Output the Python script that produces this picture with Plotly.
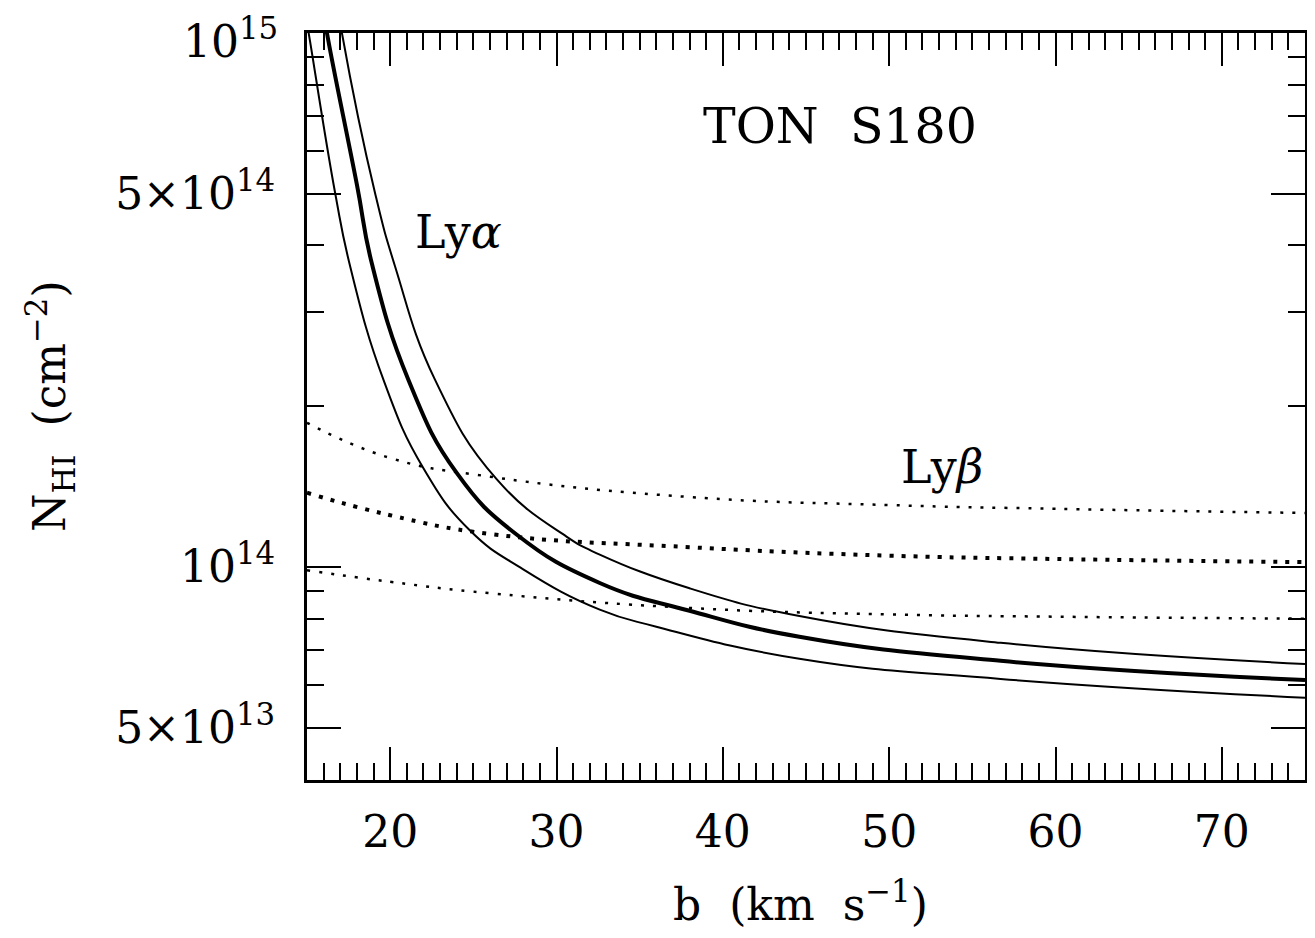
import plotly.graph_objects as go

# Ly-alpha curves (b in km/s, N_HI in cm^-2)
lya_mid_b = [16.0, 16.2, 18.0, 18.9, 21.1, 24.0, 27.6, 32.6, 38.0, 44.6, 56.7, 75.0]
lya_mid_n = [1.10e15, 1.0e15, 5.2e14, 3.70e14, 2.24e14, 1.50e14, 1.15e14, 9.33e13, 8.28e13, 7.40e13, 6.67e13, 6.14e13]

lya_hi_b = [16.9, 17.1, 19.1, 20.3, 22.7, 26.4, 30.6, 32.6, 38.0, 44.6, 56.7, 75.0]
lya_hi_n = [1.10e15, 1.0e15, 5.0e14, 3.65e14, 2.24e14, 1.46e14, 1.14e14, 1.055e14, 9.12e13, 8.09e13, 7.21e13, 6.58e13]

lya_lo_b = [15.0, 15.1, 16.7, 17.6, 19.6, 22.0, 24.8, 28.0, 32.6, 36.0, 44.6, 56.7, 75.0]
lya_lo_n = [1.04e15, 1.0e15, 5.0e14, 3.65e14, 2.24e14, 1.53e14, 1.17e14, 9.90e13, 8.32e13, 7.73e13, 6.73e13, 6.17e13, 5.69e13]

# Ly-beta curves
lyb_b = [15.0, 20.0, 26.0, 38.0, 50.0, 60.0, 75.0]
lyb_hi_n = [1.862e14, 1.600e14, 1.476e14, 1.352e14, 1.306e14, 1.285e14, 1.262e14]
lyb_mid_n = [1.377e14, 1.250e14, 1.153e14, 1.089e14, 1.050e14, 1.035e14, 1.021e14]
lyb_lo_n = [9.86e13, 9.38e13, 8.93e13, 8.38e13, 8.15e13, 8.07e13, 8.00e13]

x_ticks = [20, 30, 40, 50, 60, 70]
y_ticks = [5e13, 1e14, 5e14, 1e15]
y_ticktext = ["5×10<sup>13</sup>", "10<sup>14</sup>", "5×10<sup>14</sup>", ""]
top_label = "10<sup>15</sup>"
y_minor = [6e13, 7e13, 8e13, 9e13, 2e14, 3e14, 4e14, 6e14, 7e14, 8e14, 9e14]

FONT = "DejaVu Serif"

fig = go.Figure()

def add(b, n, width, dash="solid"):
    fig.add_trace(go.Scatter(x=b, y=n, mode="lines",
                             line=dict(color="black", width=width, dash=dash, shape="spline", smoothing=1.3),
                             showlegend=False, hoverinfo="skip"))

add(lya_hi_b, lya_hi_n, 2)
add(lya_mid_b, lya_mid_n, 4)
add(lya_lo_b, lya_lo_n, 2)
add(lyb_b, lyb_hi_n, 2.5, "3px,9px")
add(lyb_b, lyb_mid_n, 4, "4px,8px")
add(lyb_b, lyb_lo_n, 2.5, "3px,9px")

axis_common = dict(showline=True, linewidth=3, linecolor="black", mirror="ticks",
                   ticks="inside", tickwidth=2, tickcolor="black", showgrid=False, zeroline=False,
                   tickfont=dict(family=FONT, size=44, color="black"))

fig.update_xaxes(range=[15, 75], tickmode="array", tickvals=x_ticks, ticklen=33,
                 ticklabelstandoff=11,
                 minor=dict(dtick=1, tick0=15, ticks="inside", ticklen=17, tickwidth=2, tickcolor="black", showgrid=False),
                 **axis_common)
fig.update_yaxes(type="log", range=[13.601, 15.0], tickmode="array", tickvals=y_ticks, ticktext=y_ticktext,
                 ticklen=34, ticklabelstandoff=20,
                 minor=dict(tickmode="array", tickvals=y_minor, ticks="inside", ticklen=17, tickwidth=2,
                            tickcolor="black", showgrid=False),
                 **axis_common)

# top y tick label, nudged down so it stays inside the page
fig.add_annotation(text=top_label, xref="paper", yref="paper", x=-0.027, y=0.993,
                   xanchor="right", yanchor="middle", showarrow=False,
                   font=dict(family=FONT, size=44, color="black"))

ann_font = dict(family=FONT, size=44, color="black")
fig.add_annotation(text="b  (km  s<sup>−1</sup>)", xref="paper", yref="paper", x=0.494, y=-0.162,
                   xanchor="center", yanchor="middle", showarrow=False, font=ann_font)
fig.add_annotation(text="N<sub>HI</sub>  (cm<sup>−2</sup>)", xref="paper", yref="paper", x=-0.258, y=0.50,
                   xanchor="center", yanchor="middle", textangle=-90, showarrow=False, font=ann_font)
fig.add_annotation(text="TON  S180", xref="paper", yref="paper", x=0.534, y=0.875,
                   xanchor="center", yanchor="middle", showarrow=False, font=dict(family=FONT, size=49, color="black"))
fig.add_annotation(text="Ly<i>α</i>", xref="paper", yref="paper", x=0.152, y=0.733,
                   xanchor="center", yanchor="middle", showarrow=False, font=dict(family=FONT, size=46, color="black"))
fig.add_annotation(text="Ly<i>β</i>", xref="paper", yref="paper", x=0.636, y=0.419,
                   xanchor="center", yanchor="middle", showarrow=False, font=dict(family=FONT, size=46, color="black"))

# page body has an 8px default margin: size the figure so the plot area lands at the reference position
fig.update_layout(width=1299, height=922, margin=dict(l=299, r=2, t=25, b=150, autoexpand=False),
                  plot_bgcolor="white", paper_bgcolor="white")

fig.write_html("out.html")
